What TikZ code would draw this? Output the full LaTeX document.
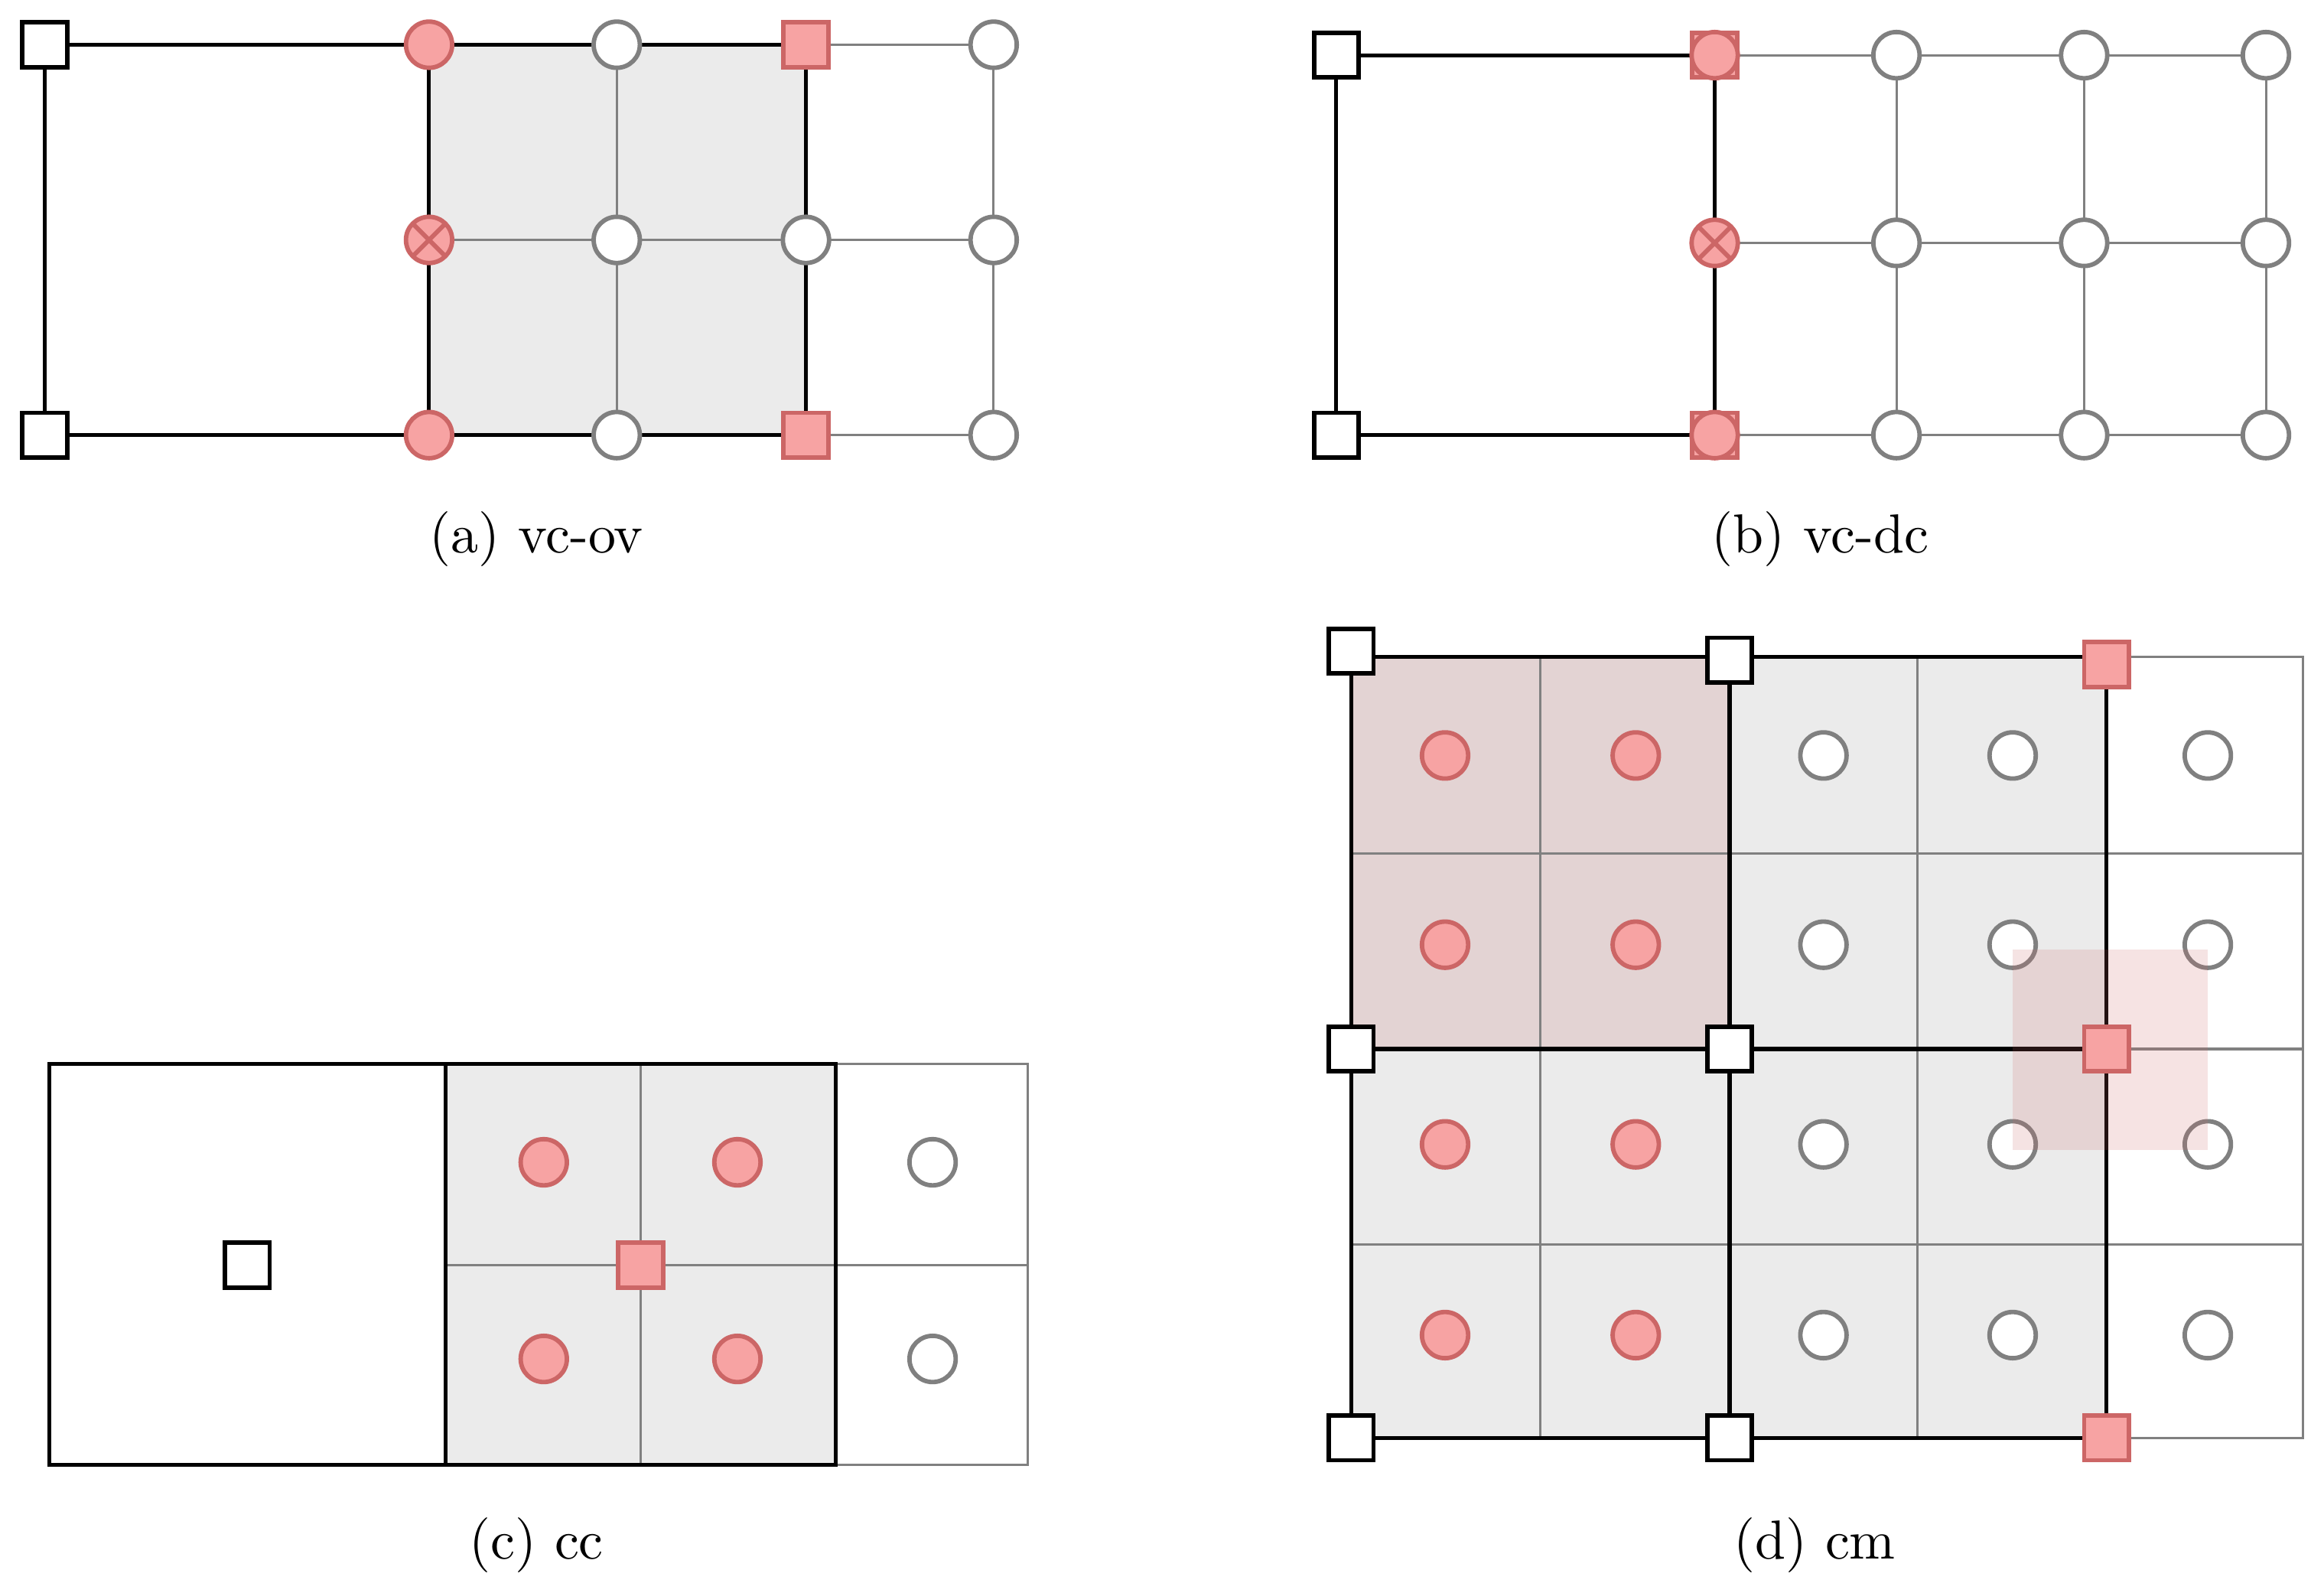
\documentclass[tikz,border=0pt]{standalone}
\usepackage{mathpazo}
\begin{document}
\definecolor{rf}{HTML}{F7A3A3}\definecolor{rs}{HTML}{CC6666}
\definecolor{gf}{HTML}{EBEBEB}\definecolor{gs}{HTML}{808080}
\definecolor{bf}{HTML}{E3D3D3}
\begin{tikzpicture}[x=0.01cm,y=-0.01cm,
 blk/.style={line width=0.75pt,black},
 thin/.style={line width=0.45pt,gs},
 bsq/.style={draw=black,fill=white,line width=0.85pt,minimum size=0.3cm,inner sep=0pt},
 rsq/.style={draw=rs,fill=rf,line width=0.85pt,minimum size=0.3cm,inner sep=0pt},
 rc/.style={circle,draw=rs,fill=rf,line width=0.85pt,minimum size=0.31cm,inner sep=0pt},
 gc/.style={circle,draw=gs,fill=white,line width=0.85pt,minimum size=0.31cm,inner sep=0pt},
 xc/.style={rc,path picture={\draw[rs,line width=0.85pt] (path picture bounding box.south west)--(path picture bounding box.north east) (path picture bounding box.north west)--(path picture bounding box.south east);}},
 captxt/.style={font=\fontsize{10.5}{12}\selectfont}]
\useasboundingbox (0,0) rectangle (1560,1069);
% (a)
\fill[gf] (288,30) rectangle (541,292);
\draw[thin] (414,30)--(414,292) (288,161)--(667,161) (541,30)--(667,30)--(667,292)--(541,292);
\draw[blk] (30,30) rectangle (288,292);
\draw[blk] (288,30) rectangle (541,292);
\node[bsq] (a1) at (30,30) {}; \node[bsq] (a2) at (30,292) {};
\node[rc] (a3) at (288,30) {}; \node[rc] (a4) at (288,292) {}; \node[xc] (a5) at (288,161) {};
\node[rsq] (a6) at (541,30) {}; \node[rsq] (a7) at (541,292) {};
\foreach \p [count=\i] in {(414,30),(414,161),(414,292),(541,161),(667,30),(667,161),(667,292)} \node[gc] (ag\i) at \p {};
\node[captxt] (ca) at (360,362) {(\textbf{a}) vc-ov};
% (b)
\draw[thin] (1151,37)--(1521,37) (1151,163)--(1521,163) (1151,292)--(1521,292)
 (1273,37)--(1273,292) (1399,37)--(1399,292) (1521,37)--(1521,292);
\draw[blk] (897,37) rectangle (1151,292);
\node[bsq] (b1) at (897,37) {}; \node[bsq] (b2) at (897,292) {};
\node[rsq] (b3) at (1151,37) {}; \node[rc] at (1151,37) {};
\node[rsq] (b4) at (1151,292) {}; \node[rc] at (1151,292) {};
\node[xc] (b5) at (1151,163) {};
\foreach \x in {1273,1399,1521} \foreach \y in {37,163,292} \node[gc] (bg\x\y) at (\x,\y) {};
\node[captxt] (cb) at (1222,362) {(\textbf{b}) vc-dc};
% (c)
\fill[gf] (299,714) rectangle (561,983);
\draw[thin] (430,714)--(430,983) (299,849)--(690,849) (561,714)--(690,714)--(690,983)--(561,983);
\draw[blk] (33,714) rectangle (561,983) (299,714)--(299,983);
\node[bsq] (c1) at (166,849) {};
\foreach \p [count=\i] in {(365,780),(495,780),(365,912),(495,912)} \node[rc] (cr\i) at \p {};
\node[rsq] (c2) at (430,849) {};
\node[gc] (c3) at (626,780) {}; \node[gc] (c4) at (626,912) {};
\node[captxt] (cc) at (360,1037) {(\textbf{c}) cc};
% (d)
\fill[gf] (907,441) rectangle (1414,965);
\fill[bf] (907,441) rectangle (1161,704);
\draw[thin] (1034,441)--(1034,965) (1287,441)--(1287,965) (907,573)--(1546,573) (907,835)--(1546,835)
 (1414,441)--(1546,441)--(1546,965)--(1414,965) (1414,704)--(1546,704);
\draw[blk] (907,441) rectangle (1414,965) (1161,441)--(1161,965) (907,704)--(1414,704);
\foreach \x in {970,1098} \foreach \y in {507,634,768,896} \node[rc] (dr\x\y) at (\x,\y) {};
\foreach \x in {1224,1351,1482} \foreach \y in {507,634,768,896} \node[gc] (dg\x\y) at (\x,\y) {};
\fill[rs,opacity=0.18] (1351,637) rectangle (1482,772);
\node[bsq] (d1) at (907,437) {}; \node[bsq] (d2) at (1161,443) {};
\node[bsq] (d3) at (907,704) {}; \node[bsq] (d4) at (1161,704) {};
\node[bsq] (d5) at (907,965) {}; \node[bsq] (d6) at (1161,965) {};
\node[rsq] (d7) at (1414,446) {}; \node[rsq] (d8) at (1414,704) {}; \node[rsq] (d9) at (1414,965) {};
\node[captxt] (cd) at (1218,1037) {(\textbf{d}) cm};
\end{tikzpicture}
\end{document}
